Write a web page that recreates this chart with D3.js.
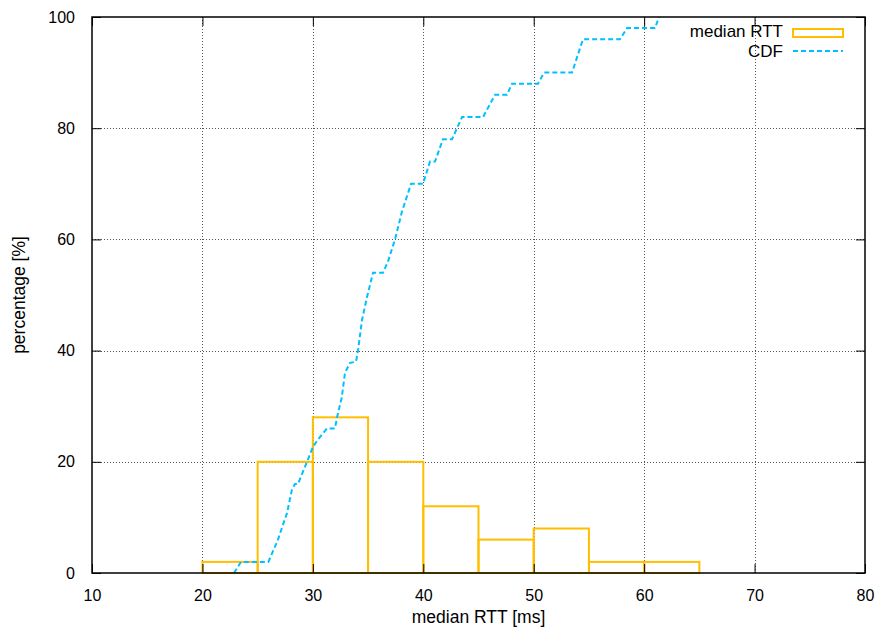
<!DOCTYPE html>
<html>
<head>
<meta charset="utf-8">
<script src="https://cdn.jsdelivr.net/npm/d3@7"></script>
<style>
  html, body { margin: 0; padding: 0; background: #fff; }
  svg { display: block; font-family: "Liberation Sans", Arial, Helvetica, sans-serif; }
</style>
</head>
<body>
<svg id="chart" width="880" height="627"></svg>
<script>
// Histogram of median RTT: 5 ms bins, share of hosts in percent
const binStarts = [20, 25, 30, 35, 40, 45, 50, 55, 60];
const binWidth = 5;
const binPercent = [2, 20, 28, 20, 12, 6, 8, 2, 2];

// Cumulative distribution of median RTT (ms, percent)
const cdfRtt = [22.86, 23.49, 25.97, 26.84, 27.66, 28.11, 28.38, 28.65, 29.47, 30.01,
  30.46, 31.28, 32.00, 32.19, 32.61, 32.91, 33.36, 33.91, 34.09, 34.45,
  34.90, 35.45, 36.35, 36.80, 37.44, 38.07, 38.89, 39.97, 40.61, 41.06,
  41.78, 42.60, 43.51, 45.41, 46.49, 47.58, 48.03, 50.39, 50.93, 53.47,
  54.46, 57.81, 58.45, 60.98, 61.35];
const cdfPercent = [0, 2, 2, 6, 10.8, 15, 16, 16, 20, 22.7,
  24, 26, 26, 28, 31.5, 36, 37.8, 38, 40, 45.5,
  49.6, 54, 54, 56, 60, 65, 70, 70, 74, 74,
  78, 78, 82, 82, 86, 86, 88, 88, 90, 90,
  96, 96, 98, 98, 100];

const xTicks = [10, 20, 30, 40, 50, 60, 70, 80];
const yTicks = [0, 20, 40, 60, 80, 100];
const seriesNames = ["median RTT", "CDF"];

const barColor = "#ffbe00";
const cdfColor = "#00c0ff";

const svg = d3.select("#chart");
const W = 880, H = 627;
const margin = { top: 17, right: 15, bottom: 54, left: 92 };
const iw = W - margin.left - margin.right;
const ih = H - margin.top - margin.bottom;

const x = d3.scaleLinear().domain([10, 80]).range([0, iw]);
const y = d3.scaleLinear().domain([0, 100]).range([ih, 0]);

const g = svg.append("g").attr("transform", `translate(${margin.left},${margin.top})`);

// grid
const grid = g.append("g").attr("stroke", "#555").attr("stroke-width", 1).attr("stroke-dasharray", "1,2");
grid.selectAll("line.gx").data(xTicks.slice(1, -1)).join("line")
  .attr("x1", d => Math.round(x(d)) + 0.5).attr("x2", d => Math.round(x(d)) + 0.5)
  .attr("y1", 0).attr("y2", ih);
grid.selectAll("line.gy").data(yTicks.slice(1, -1)).join("line")
  .attr("y1", d => Math.round(y(d)) + 0.5).attr("y2", d => Math.round(y(d)) + 0.5)
  .attr("x1", 0).attr("x2", iw);

// histogram bars (outlined boxes)
g.append("g").selectAll("rect").data(binStarts).join("rect")
  .attr("x", d => x(d))
  .attr("width", d => x(d + binWidth) - x(d))
  .attr("y", (d, i) => y(binPercent[i]))
  .attr("height", (d, i) => y(0) - y(binPercent[i]))
  .attr("fill", "none")
  .attr("stroke", barColor)
  .attr("stroke-width", 2);

// CDF line
const cdfPts = cdfRtt.map((v, i) => [v, cdfPercent[i]]);
g.append("path")
  .datum(cdfPts)
  .attr("fill", "none")
  .attr("stroke", cdfColor)
  .attr("stroke-width", 2)
  .attr("stroke-dasharray", "5,3")
  .attr("d", d3.line().x(d => x(d[0])).y(d => y(d[1])));

// axes with inward ticks, mirrored on top and right
const tickLen = 9;
const axB = g.append("g").attr("transform", `translate(0,${ih})`)
  .call(d3.axisBottom(x).tickValues(xTicks).tickSizeInner(-tickLen).tickSizeOuter(0).tickPadding(tickLen + 8));
const axT = g.append("g")
  .call(d3.axisTop(x).tickValues(xTicks).tickSizeInner(-tickLen).tickSizeOuter(0).tickFormat(""));
const axL = g.append("g")
  .call(d3.axisLeft(y).tickValues(yTicks).tickSizeInner(-tickLen).tickSizeOuter(0).tickPadding(tickLen + 8));
const axR = g.append("g").attr("transform", `translate(${iw},0)`)
  .call(d3.axisRight(y).tickValues(yTicks).tickSizeInner(-tickLen).tickSizeOuter(0).tickFormat(""));
[axB, axT, axL, axR].forEach(a => {
  a.select(".domain").remove();
  a.selectAll("line").attr("stroke", "#000").attr("stroke-width", 1);
  a.selectAll("text").attr("fill", "#000").style("font-size", "16px")
    .style("font-family", "'Liberation Sans', Arial, Helvetica, sans-serif");
});

// border
g.append("rect").attr("x", 0).attr("y", 0).attr("width", iw).attr("height", ih)
  .attr("fill", "none").attr("stroke", "#000").attr("stroke-width", 1.5);

// axis titles
svg.append("text")
  .attr("x", margin.left + iw / 2).attr("y", 623)
  .attr("text-anchor", "middle").style("font-size", "17.5px")
  .text("median RTT [ms]");
svg.append("text")
  .attr("transform", `translate(25,${margin.top + ih / 2}) rotate(-90)`)
  .attr("text-anchor", "middle").style("font-size", "17.5px")
  .text("percentage [%]");

// legend
const leg = svg.append("g");
leg.append("text").attr("x", 783).attr("y", 31.5).attr("dy", "0.35em")
  .attr("text-anchor", "end").style("font-size", "17px").text(seriesNames[0]);
leg.append("rect").attr("x", 793).attr("y", 29).attr("width", 50).attr("height", 8)
  .attr("fill", "none").attr("stroke", barColor).attr("stroke-width", 2);
leg.append("text").attr("x", 783).attr("y", 51.5).attr("dy", "0.35em")
  .attr("text-anchor", "end").style("font-size", "17px").text(seriesNames[1]);
leg.append("line").attr("x1", 793).attr("x2", 843).attr("y1", 51).attr("y2", 51)
  .attr("stroke", cdfColor).attr("stroke-width", 2).attr("stroke-dasharray", "5,3");
</script>
</body>
</html>
